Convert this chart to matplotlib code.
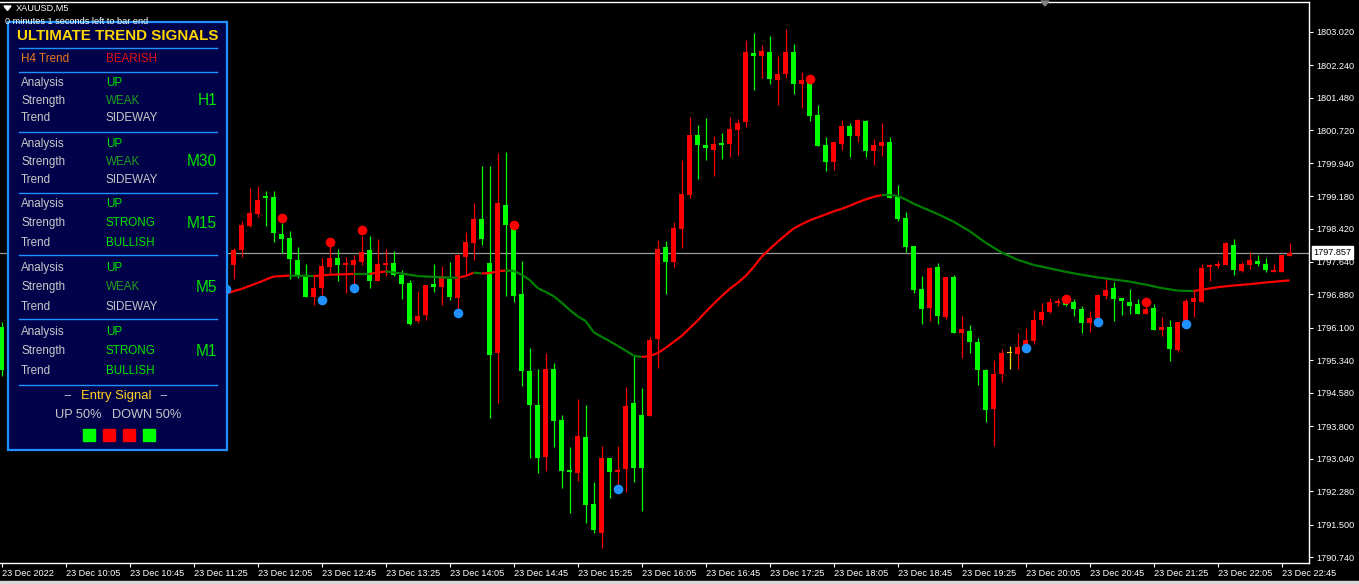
import numpy as np
import matplotlib
matplotlib.use('Agg')
import matplotlib.pyplot as plt
from matplotlib.collections import LineCollection
from matplotlib.patches import Rectangle, Polygon

plt.rcParams['font.family'] = ['Liberation Sans', 'DejaVu Sans']

# M5 bars counted from 09:25; bars 1-28 are hidden behind the signal panel
bar_no = [0] + list(range(29, 162))

opens = [1796.12, 1797.57, 1797.92, 1798.49, 1798.76, 1799.15, 1799.16, 1798.29, 1798.19, 1797.69,
         1797.30, 1796.83, 1797.04, 1797.53, 1797.74, 1797.57, 1797.57, 1797.65, 1797.92, 1797.20,
         1797.57, 1797.62, 1797.33, 1797.15, 1796.27, 1796.40, 1797.12, 1797.05, 1797.24, 1796.80,
         1797.76, 1798.09, 1798.64, 1797.61, 1795.51, 1798.97, 1798.43, 1796.89, 1795.09, 1794.30,
         1793.09, 1795.14, 1793.95, 1792.78, 1792.70, 1793.55, 1791.98, 1791.30, 1793.07, 1792.74,
         1792.80, 1794.34, 1794.06, 1794.04, 1795.84, 1797.99, 1797.65, 1798.41, 1799.20, 1800.61,
         1800.37, 1800.26, 1800.43, 1800.40, 1800.72, 1800.92, 1802.53, 1802.44, 1802.55, 1801.89,
         1802.03, 1802.55, 1801.80, 1801.91, 1801.07, 1800.37, 1799.97, 1800.40, 1800.82, 1800.58,
         1800.93, 1800.23, 1800.35, 1800.44, 1799.16, 1798.66, 1798.01, 1797.01, 1796.57, 1797.52,
         1796.35, 1797.28, 1795.99, 1796.03, 1795.77, 1795.12, 1794.20, 1795.03, 1795.51, 1795.50,
         1795.70, 1795.79, 1796.28, 1796.47, 1796.68, 1796.73, 1796.70, 1796.54, 1796.21, 1796.32,
         1796.85, 1797.04, 1796.80, 1796.70, 1796.66, 1796.43, 1796.56, 1796.06, 1796.12, 1795.59,
         1796.24, 1796.70, 1796.70, 1797.52, 1797.55, 1797.57, 1798.04, 1797.43, 1797.57, 1797.66,
         1797.59, 1797.41, 1797.41, 1797.78]
highs = [1796.24, 1797.96, 1798.60, 1799.36, 1799.41, 1799.30, 1799.30, 1798.56, 1798.36, 1798.00,
         1797.59, 1797.30, 1797.73, 1798.01, 1797.94, 1797.76, 1797.80, 1798.25, 1798.25, 1798.17,
         1797.94, 1797.90, 1797.44, 1797.22, 1796.96, 1797.10, 1797.59, 1797.55, 1797.65, 1797.83,
         1798.34, 1799.02, 1799.88, 1799.88, 1800.18, 1800.20, 1798.50, 1797.67, 1795.62, 1795.13,
         1795.51, 1795.29, 1794.06, 1793.31, 1794.44, 1794.30, 1792.51, 1793.34, 1793.07, 1793.35,
         1794.72, 1795.44, 1794.70, 1795.89, 1798.15, 1798.13, 1798.58, 1800.01, 1801.03, 1800.84,
         1801.01, 1800.58, 1800.65, 1801.03, 1800.97, 1802.83, 1802.98, 1802.71, 1802.92, 1802.44,
         1803.08, 1802.73, 1802.08, 1801.98, 1801.31, 1800.57, 1800.44, 1800.96, 1800.89, 1800.99,
         1800.96, 1800.51, 1800.89, 1800.56, 1799.44, 1798.81, 1798.01, 1797.31, 1797.52, 1797.62,
         1797.28, 1797.33, 1796.38, 1796.17, 1795.86, 1795.14, 1795.35, 1795.61, 1795.68, 1795.98,
         1796.10, 1796.52, 1796.68, 1796.80, 1796.80, 1796.80, 1796.77, 1796.61, 1796.49, 1796.89,
         1797.24, 1797.18, 1796.80, 1797.01, 1796.77, 1796.63, 1796.66, 1796.36, 1796.28, 1796.24,
         1796.78, 1796.96, 1797.59, 1797.59, 1797.66, 1798.11, 1798.18, 1797.63, 1797.87, 1797.80,
         1797.73, 1797.59, 1797.80, 1798.08]
lows = [1794.98, 1797.24, 1797.76, 1798.46, 1798.68, 1798.49, 1798.11, 1797.84, 1797.24, 1797.26,
        1796.83, 1796.63, 1796.87, 1797.37, 1797.20, 1796.92, 1797.12, 1797.57, 1797.02, 1797.20,
        1797.30, 1797.30, 1796.77, 1796.17, 1796.22, 1796.28, 1796.94, 1796.63, 1796.75, 1796.52,
        1797.31, 1797.69, 1798.04, 1793.99, 1794.34, 1796.85, 1796.71, 1794.75, 1793.05, 1792.72,
        1792.76, 1793.32, 1792.35, 1791.77, 1792.53, 1791.55, 1791.30, 1790.95, 1792.12, 1792.27,
        1792.27, 1792.51, 1791.81, 1794.04, 1795.17, 1796.89, 1797.53, 1797.97, 1799.14, 1799.58,
        1800.02, 1799.65, 1800.05, 1800.10, 1800.14, 1800.80, 1801.66, 1801.94, 1801.80, 1801.31,
        1801.94, 1801.56, 1801.24, 1800.94, 1800.35, 1799.77, 1799.79, 1800.26, 1800.08, 1800.44,
        1800.10, 1799.91, 1800.12, 1799.14, 1798.60, 1797.88, 1796.92, 1796.19, 1796.27, 1796.19,
        1796.31, 1795.99, 1795.40, 1795.52, 1794.77, 1793.91, 1793.35, 1794.84, 1795.15, 1795.15,
        1795.70, 1795.73, 1796.17, 1796.45, 1796.61, 1796.61, 1796.38, 1795.98, 1796.00, 1796.32,
        1796.78, 1796.27, 1796.40, 1796.42, 1796.43, 1796.43, 1796.06, 1795.92, 1795.33, 1795.54,
        1796.24, 1796.36, 1796.70, 1797.20, 1797.50, 1797.57, 1797.33, 1797.41, 1797.48, 1797.55,
        1797.41, 1797.41, 1797.41, 1797.78]
closes = [1795.12, 1797.92, 1798.50, 1798.79, 1799.09, 1799.14, 1798.31, 1798.18, 1797.71, 1797.33,
          1796.83, 1797.04, 1797.55, 1797.74, 1797.57, 1797.62, 1797.69, 1797.88, 1797.20, 1797.59,
          1797.62, 1797.33, 1797.13, 1796.19, 1796.38, 1797.10, 1797.06, 1797.30, 1796.81, 1797.80,
          1798.11, 1798.64, 1798.18, 1795.47, 1799.02, 1798.50, 1796.85, 1795.10, 1794.30, 1793.07,
          1795.14, 1793.92, 1792.76, 1792.73, 1793.57, 1791.95, 1791.38, 1793.07, 1792.74, 1792.78,
          1794.28, 1792.83, 1792.83, 1795.82, 1797.95, 1797.65, 1798.43, 1799.23, 1800.61, 1800.37,
          1800.31, 1800.40, 1800.37, 1800.75, 1800.89, 1802.55, 1802.46, 1802.57, 1801.91, 1802.03,
          1802.55, 1801.80, 1801.89, 1801.05, 1800.35, 1799.97, 1800.44, 1800.82, 1800.58, 1800.96,
          1800.23, 1800.37, 1800.44, 1799.14, 1798.64, 1798.00, 1796.98, 1796.55, 1797.50, 1796.38,
          1797.28, 1795.99, 1796.07, 1795.77, 1795.12, 1794.18, 1795.02, 1795.51, 1795.51, 1795.65,
          1795.82, 1796.28, 1796.47, 1796.70, 1796.73, 1796.63, 1796.54, 1796.21, 1796.33, 1796.87,
          1796.98, 1796.78, 1796.73, 1796.62, 1796.43, 1796.55, 1796.06, 1796.13, 1795.61, 1796.24,
          1796.73, 1796.80, 1797.50, 1797.57, 1797.60, 1798.08, 1797.45, 1797.59, 1797.69, 1797.59,
          1797.45, 1797.45, 1797.80, 1797.86]

# trend moving average (red while rising, green while falling)
ma_bar = [28, 30, 32, 34, 36, 39, 41, 44, 46, 48, 50, 52, 55, 57, 58] + list(range(59, 116)) + \
         [117, 119, 121, 123, 125, 127, 129, 131, 133, 135, 137, 139, 141, 143, 145, 147, 149,
          150, 152, 154, 156, 158, 161]
ma_val = [1796.90, 1797.01, 1797.15, 1797.30, 1797.32, 1797.31, 1797.34, 1797.36, 1797.36, 1797.42,
          1797.37, 1797.31, 1797.28, 1797.27, 1797.31,
          1797.39, 1797.37, 1797.38, 1797.42, 1797.44, 1797.43, 1797.34, 1797.22, 1797.03, 1796.94,
          1796.84, 1796.69, 1796.52, 1796.37, 1796.26, 1796.00, 1795.89, 1795.79, 1795.68, 1795.57,
          1795.45, 1795.42, 1795.44, 1795.51, 1795.63, 1795.77, 1795.91, 1796.09, 1796.27, 1796.47,
          1796.66, 1796.84, 1797.01, 1797.15, 1797.31, 1797.52, 1797.76, 1797.94, 1798.11, 1798.27,
          1798.42, 1798.52, 1798.61, 1798.68, 1798.75, 1798.82, 1798.88, 1798.95, 1799.03, 1799.10,
          1799.16, 1799.20, 1799.20, 1799.18, 1799.10, 1799.00, 1798.92,
          1798.76, 1798.58, 1798.36, 1798.09, 1797.86, 1797.69, 1797.57, 1797.49, 1797.41, 1797.34,
          1797.28, 1797.23, 1797.18, 1797.11, 1797.03, 1796.97, 1796.96,
          1796.99, 1797.05, 1797.09, 1797.12, 1797.16, 1797.21]

sell_bar = [35, 41, 45, 64, 101, 133, 143]
sell_val = [1798.66, 1798.10, 1798.39, 1798.50, 1801.91, 1796.77, 1796.70]
buy_bar = [28, 40, 44, 57, 77, 128, 137, 148]
buy_val = [1797.00, 1796.75, 1797.02, 1796.44, 1792.34, 1795.62, 1796.23, 1796.18]

bid = 1797.857
price_ticks = [1803.020, 1802.240, 1801.480, 1800.720, 1799.940, 1799.180, 1798.420, 1797.640,
               1796.880, 1796.100, 1795.340, 1794.580, 1793.800, 1793.040, 1792.280, 1791.500,
               1790.740]
time_labels = ['23 Dec 2022', '23 Dec 10:05', '23 Dec 10:45', '23 Dec 11:25', '23 Dec 12:05',
               '23 Dec 12:45', '23 Dec 13:25', '23 Dec 14:05', '23 Dec 14:45', '23 Dec 15:25',
               '23 Dec 16:05', '23 Dec 16:45', '23 Dec 17:25', '23 Dec 18:05', '23 Dec 18:45',
               '23 Dec 19:25', '23 Dec 20:05', '23 Dec 20:45', '23 Dec 21:25', '23 Dec 22:05',
               '23 Dec 22:45']

# panel contents
timeframes = ['H1', 'M30', 'M15', 'M5', 'M1']
analysis = ['UP', 'UP', 'UP', 'UP', 'UP']
strength = ['WEAK', 'WEAK', 'STRONG', 'WEAK', 'STRONG']
trend = ['SIDEWAY', 'SIDEWAY', 'BULLISH', 'SIDEWAY', 'BULLISH']
signal_boxes = ['up', 'down', 'down', 'up']

assert len(opens) == len(highs) == len(lows) == len(closes) == len(bar_no)
assert len(ma_bar) == len(ma_val)

W, H = 1359, 584
fig = plt.figure(figsize=(W / 100, H / 100), dpi=100, facecolor='black')
ax = fig.add_axes([0, 21 / H, 1309 / W, 561 / H])
ax.set_facecolor('black')
ax.set_xlim(-0.2, 163.425)
ax.set_ylim(1790.606, 1803.713)

x = np.array(bar_no)
o, h, l, c = map(np.array, (opens, highs, lows, closes))
cols = np.where(c > o, '#ff0000', np.where(c < o, '#00ff00', '#ffd700'))

ax.axhline(bid, color='#9a9a9a', lw=0.9, zorder=1)
ax.vlines(x, l, h, colors=cols, lw=0.9, zorder=2)
ax.bar(x, np.maximum(np.abs(c - o), 0.03), width=0.625, bottom=np.minimum(o, c),
       color=cols, linewidth=0, zorder=3)

pts = np.column_stack([ma_bar, ma_val])
segs = [pts[k:k + 2] for k in range(len(pts) - 1)]
seg_cols = ['#ff0000' if ma_val[k + 1] > ma_val[k] else '#008000' for k in range(len(pts) - 1)]
ax.add_collection(LineCollection(segs, colors=seg_cols, linewidths=1.6, zorder=4))

ax.scatter(sell_bar, sell_val, s=48, color='#ff0000', linewidths=0, zorder=5)
ax.scatter(buy_bar, buy_val, s=48, color='#1e90ff', linewidths=0, zorder=5)

for side in ['top', 'right', 'bottom']:
    ax.spines[side].set_color('white')
    ax.spines[side].set_linewidth(1)
ax.spines['left'].set_visible(False)

ax.yaxis.tick_right()
ax.set_yticks(price_ticks)
ax.set_yticklabels([f'{v:.3f}' for v in price_ticks])
ax.tick_params(axis='y', colors='white', labelsize=6.6, length=3, pad=2, width=0.8)
ax.set_xticks(range(0, 161, 8))
ax.set_xticklabels(time_labels)
ax.tick_params(axis='x', colors='white', labelsize=6.6, length=3, pad=1.5, width=0.8)
for t in ax.get_xticklabels():
    t.set_ha('left')

ax.annotate(f'{bid:.3f}', xy=(1, bid), xycoords=ax.get_yaxis_transform(),
            xytext=(3.2, 0), textcoords='offset points', ha='left', va='center',
            fontsize=6.6, color='black', annotation_clip=False,
            bbox=dict(boxstyle='square,pad=0.2', fc='white', ec='white'))

# overlay in pixel coordinates for the panel and header
ov = fig.add_axes([0, 0, 1, 1])
ov.set_xlim(0, W)
ov.set_ylim(H, 0)
ov.axis('off')

ov.add_patch(Rectangle((0, 581), W, 3, color='#d8d8d8'))
ov.add_patch(Polygon([[1041, 1], [1049, 1], [1045, 6]], color='#808080'))
ov.add_patch(Polygon([[4, 6], [11, 6], [7.5, 10.5]], color='white'))
ov.text(16, 8.5, 'XAUUSD,M5', color='white', fontsize=6.6, va='center')

ov.add_patch(Rectangle((8, 21.5), 219, 428.5, fc='#02024a', ec='#1e90ff', lw=1.6))
ov.text(5, 21.5, '0 minutes 1 seconds left to bar end', color='white', fontsize=6.6,
        va='center', zorder=5)

lab_c = '#c8c8c8'
lime = '#00e400'
dark_g = '#1e9e1e'
fs = 8.4
sep_y = [47.7, 72, 131.7, 192.7, 255.3, 319.3, 384.7]
for yy in sep_y:
    ov.plot([19, 217], [yy, yy], color='#1e90ff', lw=1)

ov.text(118, 35.5, 'ULTIMATE TREND SIGNALS', color='#ffd700', fontsize=10.9,
        fontweight='bold', ha='center', va='center')
ov.text(21, 59.5, 'H4 Trend', color='#e8781e', fontsize=fs, va='center')
ov.text(106, 59.5, 'BEARISH', color='#e81010', fontsize=fs, va='center')

block_y = [83.3, 144, 204, 267.7, 331.7]
row_gap = [17.5, 17.8, 19.3, 19.5, 19.5]
val_col = {'UP': lime, 'WEAK': dark_g, 'STRONG': lime, 'SIDEWAY': lab_c, 'BULLISH': lime}
for k, tf in enumerate(timeframes):
    y0, g = block_y[k], row_gap[k]
    for r, (name, val) in enumerate(zip(['Analysis', 'Strength', 'Trend'],
                                        [analysis[k], strength[k], trend[k]])):
        ov.text(21, y0 + r * g, name, color=lab_c, fontsize=fs, va='center')
        ov.text(106, y0 + r * g, val, color=val_col[val], fontsize=fs, va='center')
    ov.text(217, y0 + g, tf, color=lime, fontsize=11.2, ha='right', va='center')

ov.text(68, 396.5, '--', color=lab_c, fontsize=9.4, ha='center', va='center')
ov.text(116, 396.5, 'Entry Signal', color='#ffd21e', fontsize=9.4, ha='center', va='center')
ov.text(164, 396.5, '--', color=lab_c, fontsize=9.4, ha='center', va='center')
ov.text(118, 415, 'UP 50%   DOWN 50%', color=lab_c, fontsize=9.2, ha='center', va='center')
for k, s in enumerate(signal_boxes):
    ov.add_patch(Rectangle((83.3 + 20 * k, 429.3), 11.7, 11.7,
                           color='#00ff00' if s == 'up' else '#ff0000'))

fig.savefig('out.png', dpi=100, facecolor='black')
